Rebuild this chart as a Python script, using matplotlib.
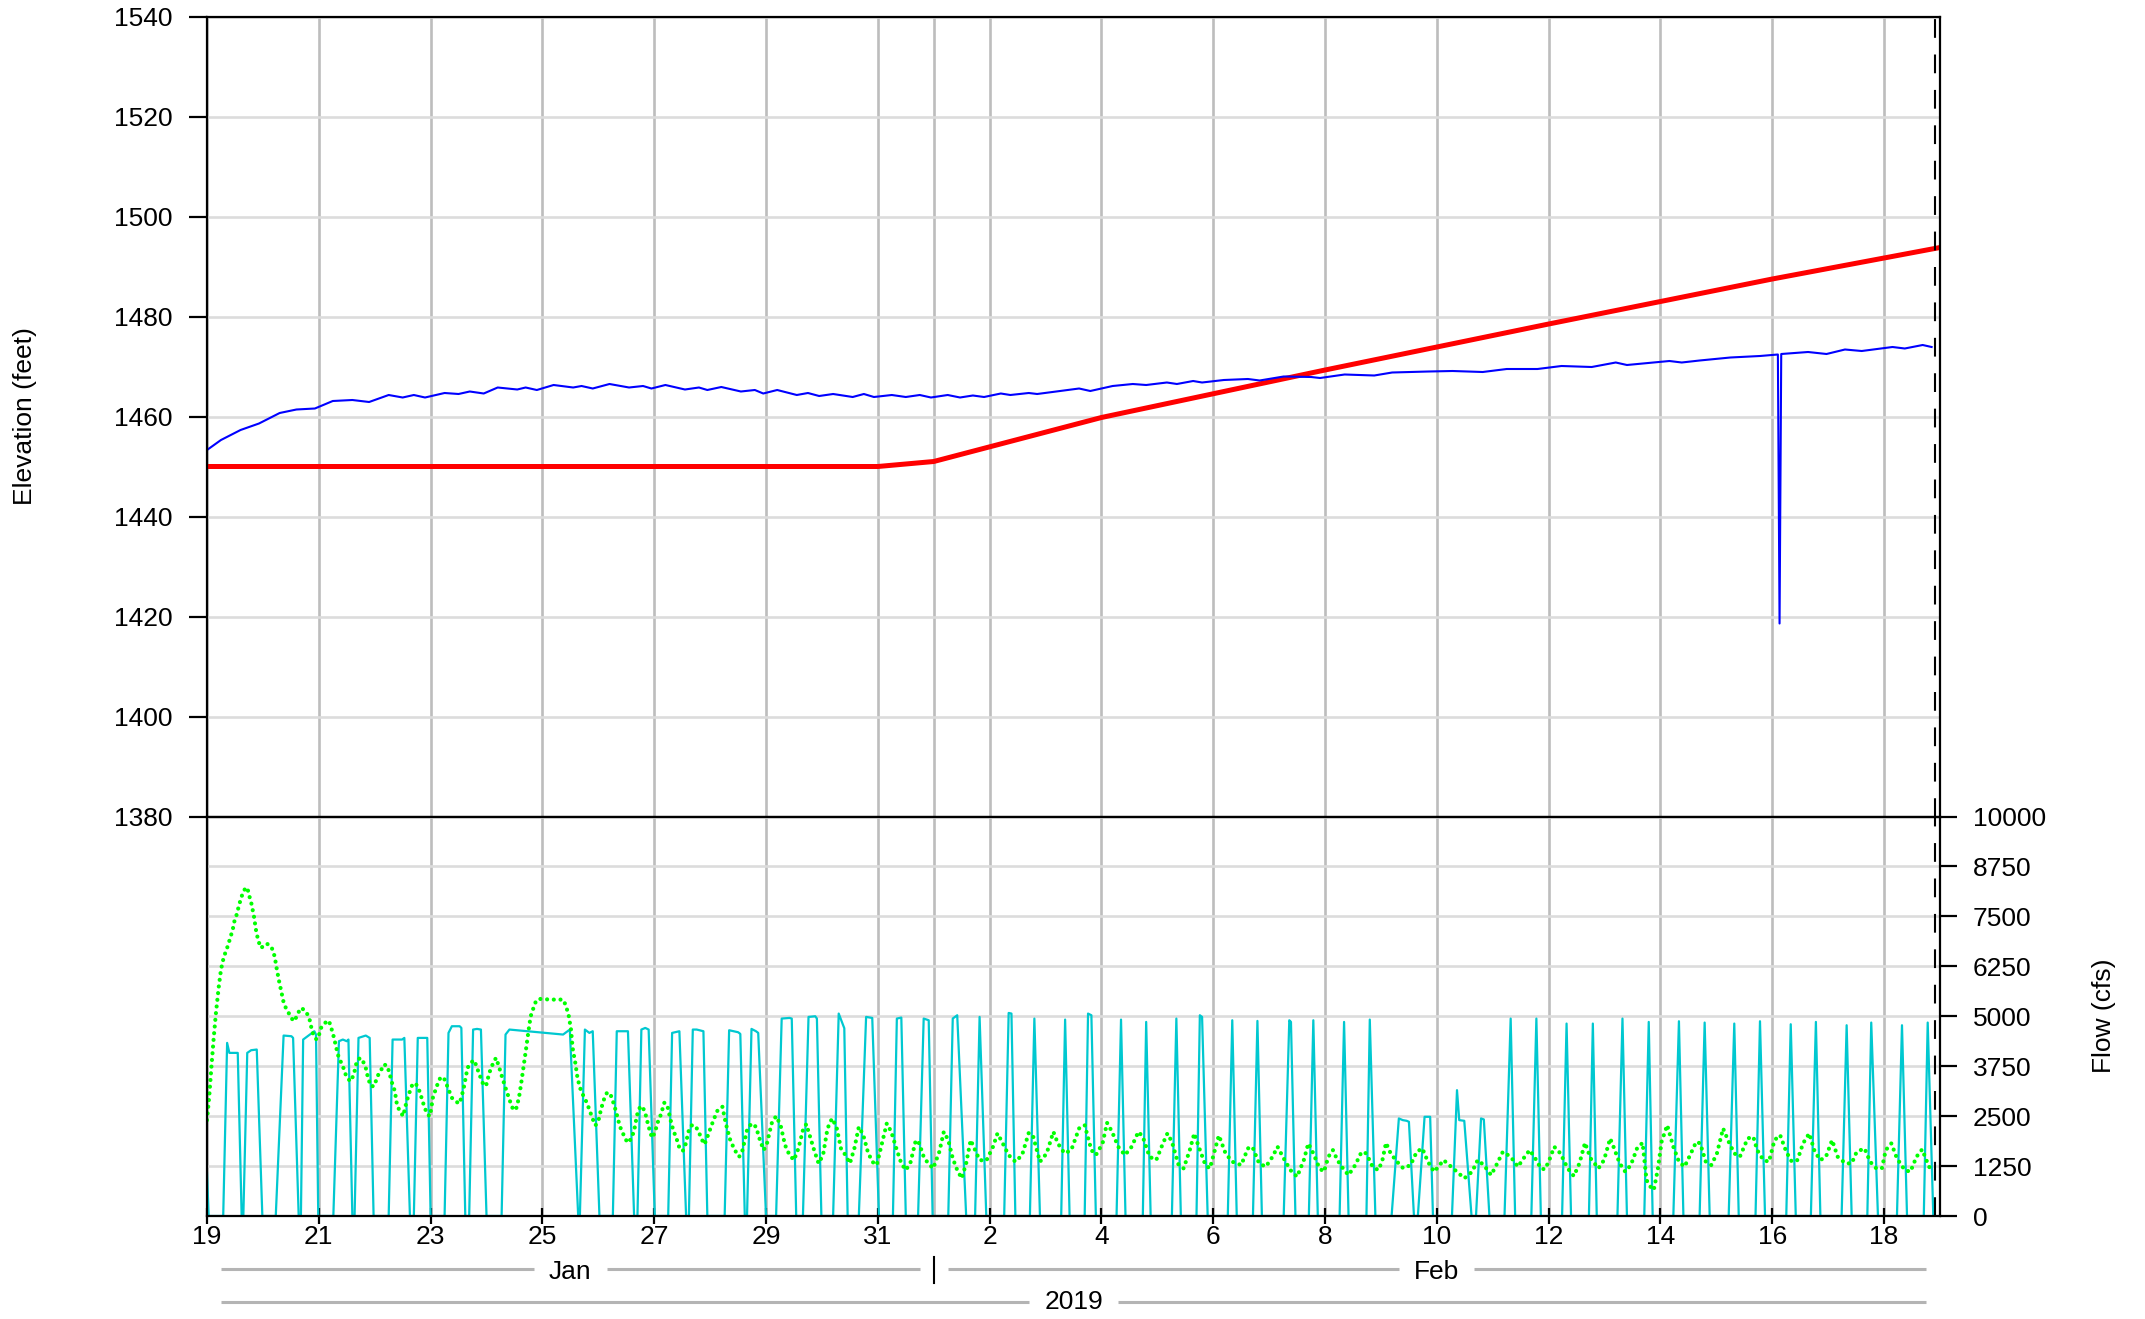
import numpy as np
import pandas as pd
import matplotlib
matplotlib.use('Agg')
import matplotlib.pyplot as plt
import matplotlib.dates as mdates
import matplotlib.transforms as mtransforms

plt.rcParams['font.family'] = ['Liberation Sans', 'DejaVu Sans']
plt.rcParams['font.size'] = 19

# time axis: days after 2019-01-19 00:00
start = pd.Timestamp('2019-01-19')
n_days = 31
now_marker = pd.Timestamp('2019-02-18 22:00')

# reservoir elevation (feet), (day, value)
elevation = [
    (0.00, 1453.3), (0.25, 1455.3), (0.60, 1457.3), (0.93, 1458.6), (1.30, 1460.7),
    (1.60, 1461.4), (1.93, 1461.6), (2.25, 1463.1), (2.60, 1463.3), (2.90, 1462.9),
    (3.25, 1464.3), (3.50, 1463.8), (3.70, 1464.3), (3.90, 1463.8), (4.25, 1464.7),
    (4.50, 1464.5), (4.70, 1465.0), (4.95, 1464.6), (5.20, 1465.8), (5.55, 1465.4),
    (5.70, 1465.8), (5.90, 1465.3), (6.20, 1466.3), (6.55, 1465.8), (6.70, 1466.1),
    (6.90, 1465.6), (7.20, 1466.5), (7.55, 1465.8), (7.80, 1466.1), (7.95, 1465.6),
    (8.20, 1466.3), (8.55, 1465.4), (8.80, 1465.8), (8.95, 1465.3), (9.20, 1465.9),
    (9.55, 1465.0), (9.80, 1465.3), (9.95, 1464.6), (10.20, 1465.3), (10.55, 1464.3),
    (10.75, 1464.7), (10.95, 1464.1), (11.20, 1464.5), (11.55, 1463.9), (11.75, 1464.5),
    (11.93, 1463.9), (12.25, 1464.3), (12.50, 1463.9), (12.75, 1464.3), (12.95, 1463.8),
    (13.25, 1464.3), (13.47, 1463.8), (13.70, 1464.2), (13.90, 1463.9), (14.20, 1464.6),
    (14.37, 1464.3), (14.70, 1464.7), (14.85, 1464.5), (15.26, 1465.1), (15.60, 1465.6),
    (15.80, 1465.1), (16.20, 1466.1), (16.56, 1466.5), (16.80, 1466.3), (17.17, 1466.8),
    (17.35, 1466.5), (17.64, 1467.1), (17.80, 1466.8), (18.19, 1467.3), (18.62, 1467.5),
    (18.83, 1467.2), (19.26, 1468.0), (19.75, 1467.9), (19.91, 1467.7), (20.35, 1468.4),
    (20.88, 1468.2), (21.20, 1468.8), (21.85, 1469.0), (22.28, 1469.1), (22.82, 1468.9),
    (23.25, 1469.5), (23.80, 1469.5), (24.23, 1470.1), (24.77, 1469.9), (25.20, 1470.8),
    (25.40, 1470.3), (26.16, 1471.1), (26.38, 1470.8), (26.70, 1471.2), (27.25, 1471.8),
    (27.78, 1472.1), (28.10, 1472.4), (28.13, 1418.6), (28.16, 1472.5), (28.64, 1472.9),
    (28.97, 1472.5), (29.30, 1473.4), (29.60, 1473.1), (30.15, 1473.9), (30.37, 1473.6),
    (30.69, 1474.3), (30.85, 1473.9),
]

# rule curve elevation (feet)
rule_curve = [(0, 1450.0), (12, 1450.0), (13, 1451.0), (16, 1459.8), (20, 1469.3),
              (24, 1478.5), (28, 1487.5), (31, 1493.8)]

# release flow (cfs)
release = [
    (0.00, 1083), (0.03, 0),
    (0.29, 0), (0.36, 4333), (0.40, 4083), (0.55, 4083), (0.62, 0),
    (0.65, 0), (0.72, 4083), (0.79, 4150), (0.89, 4167), (0.99, 0),
    (1.23, 0), (1.37, 4517), (1.51, 4500), (1.54, 4458), (1.64, 0),
    (1.68, 0), (1.72, 4417), (1.92, 4625), (1.95, 4542), (1.99, 0),
    (2.26, 0), (2.36, 4375), (2.43, 4417), (2.50, 4375), (2.53, 4417), (2.60, 0),
    (2.64, 0), (2.71, 4458), (2.84, 4517), (2.91, 4458), (2.98, 0),
    (3.25, 0), (3.32, 4417), (3.49, 4417), (3.53, 4458), (3.63, 0),
    (3.70, 0), (3.77, 4458), (3.94, 4458), (4.00, 0),
    (4.25, 0), (4.32, 4583), (4.38, 4750), (4.52, 4750), (4.55, 4708), (4.62, 0),
    (4.69, 0), (4.76, 4667), (4.83, 4683), (4.90, 4667), (5.00, 0),
    (5.27, 0), (5.34, 4542), (5.41, 4667), (6.37, 4542), (6.49, 4667), (6.64, 0),
    (6.67, 0), (6.76, 4667), (6.84, 4583), (6.90, 4625), (7.02, 0),
    (7.26, 0), (7.33, 4625), (7.53, 4625), (7.64, 0),
    (7.70, 0), (7.77, 4667), (7.84, 4708), (7.90, 4667), (8.01, 0),
    (8.25, 0), (8.32, 4583), (8.45, 4625), (8.57, 0),
    (8.62, 0), (8.69, 4667), (8.76, 4667), (8.88, 4625), (8.95, 0),
    (9.26, 0), (9.34, 4650), (9.42, 4625), (9.50, 4600), (9.54, 4558), (9.62, 0),
    (9.66, 0), (9.74, 4683), (9.82, 4625), (9.86, 4583), (10.00, 0),
    (10.18, 0), (10.28, 4942), (10.42, 4958), (10.46, 4942), (10.54, 0),
    (10.66, 0), (10.76, 4983), (10.88, 5000), (10.91, 4942), (10.99, 0),
    (11.20, 0), (11.30, 5067), (11.40, 4700), (11.46, 0),
    (11.66, 0), (11.79, 4983), (11.90, 4958), (12.02, 0),
    (12.27, 0), (12.34, 4942), (12.42, 4967), (12.50, 0),
    (12.72, 0), (12.82, 4942), (12.91, 4900), (12.98, 0),
    (13.26, 0), (13.34, 4942), (13.42, 5025), (13.58, 0),
    (13.74, 0), (13.82, 4983), (13.94, 0),
    (14.26, 0), (14.34, 5083), (14.39, 5067), (14.46, 0),
    (14.72, 0), (14.80, 4942), (14.90, 0),
    (15.28, 0), (15.35, 4917), (15.43, 0),
    (15.70, 0), (15.76, 5067), (15.82, 5025), (15.90, 0),
    (16.27, 0), (16.35, 4917), (16.43, 0),
    (16.74, 0), (16.80, 4858), (16.88, 0),
    (17.26, 0), (17.34, 4942), (17.42, 0),
    (17.70, 0), (17.76, 5025), (17.80, 4983), (17.90, 0),
    (18.26, 0), (18.34, 4900), (18.42, 0),
    (18.71, 0), (18.79, 4883), (18.87, 0),
    (19.26, 0), (19.36, 4900), (19.39, 4858), (19.47, 0),
    (19.71, 0), (19.79, 4900), (19.87, 0),
    (20.26, 0), (20.34, 4858), (20.42, 0),
    (20.74, 0), (20.80, 4917), (20.90, 0),
    (21.19, 0), (21.32, 2442), (21.39, 2400), (21.46, 2383), (21.50, 2358), (21.59, 0),
    (21.66, 0), (21.78, 2483), (21.88, 2483), (21.93, 0),
    (22.27, 0), (22.36, 3150), (22.40, 2400), (22.49, 2383), (22.62, 0),
    (22.70, 0), (22.79, 2442), (22.84, 2417), (22.94, 0),
    (23.21, 0), (23.32, 4942), (23.40, 0),
    (23.69, 0), (23.78, 4942), (23.86, 0),
    (24.24, 0), (24.32, 4817), (24.40, 0),
    (24.72, 0), (24.79, 4817), (24.86, 0),
    (25.23, 0), (25.32, 4942), (25.40, 0),
    (25.71, 0), (25.79, 4858), (25.86, 0),
    (26.23, 0), (26.33, 4875), (26.41, 0),
    (26.70, 0), (26.79, 4842), (26.88, 0),
    (27.22, 0), (27.32, 4817), (27.40, 0),
    (27.70, 0), (27.78, 4875), (27.87, 0),
    (28.25, 0), (28.33, 4800), (28.42, 0),
    (28.69, 0), (28.78, 4858), (28.86, 0),
    (29.24, 0), (29.33, 4775), (29.42, 0),
    (29.70, 0), (29.77, 4842), (29.89, 0),
    (30.23, 0), (30.32, 4775), (30.41, 0),
    (30.71, 0), (30.78, 4842), (30.88, 0),
]

# inflow (cfs)
inflow = [
    (0.00, 2400), (0.04, 3000), (0.08, 3750), (0.12, 4458), (0.16, 5083), (0.21, 5733),
    (0.25, 6167), (0.29, 6417), (0.33, 6600), (0.37, 6750), (0.41, 6933), (0.46, 7167),
    (0.49, 7375), (0.53, 7542), (0.58, 7817), (0.63, 8042), (0.67, 8167), (0.72, 8225),
    (0.75, 8042), (0.79, 7850), (0.84, 7500), (0.88, 7125), (0.92, 6875), (0.97, 6708),
    (1.01, 6767), (1.06, 6817), (1.11, 6792), (1.16, 6708), (1.21, 6500), (1.25, 6167),
    (1.29, 5875), (1.34, 5542), (1.37, 5350), (1.41, 5208), (1.46, 5083), (1.51, 4958),
    (1.55, 4875), (1.59, 4958), (1.63, 5083), (1.68, 5208), (1.73, 5167), (1.78, 5100),
    (1.84, 4892), (1.88, 4625), (1.92, 4483), (1.96, 4417), (2.00, 4517), (2.04, 4708),
    (2.11, 4833), (2.18, 4892), (2.25, 4583), (2.29, 4350), (2.34, 4042), (2.38, 3900),
    (2.43, 3750), (2.48, 3542), (2.53, 3417), (2.58, 3375), (2.64, 3625), (2.68, 3875),
    (2.74, 3958), (2.79, 3875), (2.84, 3708), (2.88, 3458), (2.93, 3250), (2.99, 3250),
    (3.05, 3500), (3.12, 3667), (3.16, 3792), (3.22, 3767), (3.26, 3600), (3.30, 3375),
    (3.36, 3125), (3.40, 2767), (3.46, 2600), (3.51, 2500), (3.55, 2750), (3.60, 3000),
    (3.66, 3250), (3.71, 3333), (3.77, 3250), (3.82, 3042), (3.88, 2767), (3.94, 2542),
    (3.99, 2500), (4.04, 2958), (4.11, 3250), (4.18, 3483), (4.25, 3417), (4.32, 3167),
    (4.38, 2958), (4.47, 2850), (4.52, 2817), (4.59, 3183), (4.66, 3708), (4.73, 3850),
    (4.78, 3900), (4.83, 3708), (4.88, 3517), (4.93, 3333), (4.99, 3250), (5.05, 3583),
    (5.12, 3833), (5.17, 3958), (5.22, 3750), (5.27, 3517), (5.33, 3250), (5.38, 3042),
    (5.42, 2875), (5.48, 2650), (5.53, 2683), (5.58, 2958), (5.62, 3317), (5.67, 3808),
    (5.71, 4208), (5.75, 4625), (5.79, 5000), (5.84, 5208), (5.89, 5400), (5.96, 5433),
    (6.15, 5417), (6.37, 5417), (6.42, 5267), (6.47, 5017), (6.51, 4683), (6.54, 4208),
    (6.59, 3817), (6.63, 3433), (6.68, 3183), (6.73, 3017), (6.78, 2875), (6.84, 2667),
    (6.89, 2458), (6.95, 2267), (7.01, 2433), (7.05, 2683), (7.11, 2958), (7.16, 3100),
    (7.23, 3000), (7.27, 2833), (7.32, 2600), (7.36, 2375), (7.41, 2150), (7.47, 1983),
    (7.52, 1833), (7.58, 1917), (7.64, 2125), (7.69, 2517), (7.74, 2708), (7.79, 2750),
    (7.85, 2517), (7.90, 2233), (7.96, 1958), (8.01, 2083), (8.07, 2375), (8.12, 2542),
    (8.18, 2833), (8.23, 2792), (8.29, 2417), (8.34, 2150), (8.40, 1933), (8.45, 1708),
    (8.51, 1625), (8.56, 1792), (8.62, 2150), (8.67, 2267), (8.73, 2267), (8.79, 2125),
    (8.85, 1917), (8.90, 1792), (8.96, 2017), (9.06, 2400), (9.14, 2667), (9.22, 2733),
    (9.28, 2317), (9.36, 1900), (9.44, 1650), (9.52, 1483), (9.58, 1650), (9.66, 2150),
    (9.74, 2317), (9.82, 2233), (9.90, 1858), (9.96, 1650), (10.02, 1833), (10.10, 2317),
    (10.18, 2500), (10.26, 2275), (10.34, 1775), (10.42, 1525), (10.50, 1400), (10.58, 1692),
    (10.66, 2150), (10.72, 2300), (10.78, 2025), (10.86, 1650), (10.94, 1317), (11.02, 1525),
    (11.10, 2192), (11.18, 2442), (11.26, 2233), (11.34, 1692), (11.42, 1525), (11.50, 1317),
    (11.58, 1692), (11.66, 2233), (11.74, 2025), (11.82, 1608), (11.90, 1358), (11.98, 1275),
    (12.06, 1733), (12.16, 2317), (12.24, 2108), (12.34, 1650), (12.42, 1317), (12.50, 1150),
    (12.58, 1317), (12.68, 1900), (12.74, 1817), (12.82, 1483), (12.90, 1317), (12.99, 1192),
    (13.10, 1608), (13.18, 2108), (13.26, 1900), (13.34, 1442), (13.42, 1150), (13.50, 942),
    (13.58, 1317), (13.66, 1900), (13.74, 1650), (13.82, 1400), (13.94, 1383), (14.06, 1733),
    (14.14, 2067), (14.22, 1858), (14.34, 1525), (14.46, 1358), (14.58, 1525), (14.70, 2083),
    (14.78, 1983), (14.90, 1358), (15.02, 1567), (15.14, 2108), (15.22, 1817), (15.34, 1567),
    (15.46, 1650), (15.60, 2192), (15.70, 2275), (15.82, 1650), (15.90, 1525), (16.02, 1817),
    (16.10, 2333), (16.19, 2108), (16.30, 1733), (16.42, 1525), (16.54, 1733), (16.66, 2108),
    (16.74, 1983), (16.86, 1483), (16.98, 1400), (17.10, 1817), (17.18, 2067), (17.26, 1858),
    (17.38, 1275), (17.47, 1192), (17.58, 1650), (17.66, 2067), (17.74, 1733), (17.86, 1275),
    (17.94, 1192), (18.02, 1608), (18.10, 2017), (18.22, 1567), (18.34, 1358), (18.50, 1275),
    (18.62, 1692), (18.70, 1733), (18.82, 1317), (18.94, 1233), (19.06, 1483), (19.15, 1733),
    (19.26, 1442), (19.38, 1150), (19.50, 983), (19.62, 1400), (19.70, 1817), (19.79, 1567),
    (19.90, 1192), (19.98, 1108), (20.06, 1483), (20.14, 1650), (20.22, 1400), (20.34, 1150),
    (20.42, 1025), (20.54, 1275), (20.64, 1567), (20.71, 1608), (20.78, 1442), (20.85, 1233),
    (20.95, 1150), (21.02, 1358), (21.09, 1833), (21.16, 1608), (21.26, 1400), (21.40, 1192),
    (21.53, 1275), (21.64, 1608), (21.74, 1692), (21.84, 1358), (21.95, 1108), (22.05, 1275),
    (22.12, 1400), (22.22, 1275), (22.36, 1108), (22.49, 942), (22.63, 1108), (22.73, 1400),
    (22.84, 1275), (22.97, 1025), (23.08, 1317), (23.18, 1608), (23.32, 1483), (23.45, 1233),
    (23.55, 1442), (23.66, 1650), (23.76, 1442), (23.86, 1192), (23.93, 1167), (24.00, 1358),
    (24.10, 1733), (24.21, 1567), (24.34, 1192), (24.45, 1000), (24.55, 1317), (24.65, 1833),
    (24.75, 1442), (24.89, 1192), (24.99, 1400), (25.10, 1942), (25.16, 1733), (25.27, 1317),
    (25.37, 1108), (25.47, 1275), (25.58, 1692), (25.68, 1833), (25.75, 900), (25.82, 733),
    (25.88, 650), (25.95, 1150), (26.02, 1858), (26.12, 2275), (26.23, 1733), (26.33, 1358),
    (26.43, 1233), (26.53, 1525), (26.64, 1858), (26.71, 1817), (26.81, 1358), (26.91, 1275),
    (27.01, 1567), (27.12, 2192), (27.22, 1858), (27.32, 1567), (27.42, 1483), (27.56, 1942),
    (27.66, 1983), (27.73, 1650), (27.84, 1400), (27.94, 1358), (28.04, 1900), (28.14, 2025),
    (28.25, 1608), (28.35, 1358), (28.45, 1400), (28.55, 1817), (28.66, 2067), (28.76, 1608),
    (28.86, 1400), (28.96, 1483), (29.07, 1900), (29.17, 1483), (29.31, 1317), (29.42, 1317),
    (29.51, 1608), (29.65, 1692), (29.75, 1358), (29.86, 1192), (29.96, 1192), (30.03, 1650),
    (30.13, 1817), (30.23, 1442), (30.37, 1150), (30.47, 1108), (30.58, 1483), (30.68, 1667),
    (30.78, 1317), (30.82, 1192),
]

elev_ticks = np.arange(1380, 1541, 20)
flow_ticks = np.arange(0, 10001, 1250)

t0 = mdates.date2num(start.to_pydatetime())
x_end = t0 + n_days


def to_x(days):
    return t0 + np.asarray(days, dtype=float)


tick_dates = pd.date_range(start, periods=16, freq='2D')
tick_x = mdates.date2num(tick_dates.to_pydatetime())
tick_labels = [str(d.day) for d in tick_dates]
feb1 = mdates.date2num(pd.Timestamp('2019-02-01').to_pydatetime())
now_x = mdates.date2num(now_marker.to_pydatetime())

W, H = 2145, 1319
fig = plt.figure(figsize=(W / 100, H / 100), dpi=100)
L, R = 207, 1940
top, mid, bot = 16.5, 816.5, 1216
ax1 = fig.add_axes([L / W, 1 - mid / H, (R - L) / W, (mid - top) / H])
ax2 = fig.add_axes([L / W, 1 - bot / H, (R - L) / W, (bot - mid) / H])

vgrid = dict(color='#bdbdbd', lw=1.9)
hgrid = dict(color='#dcdcdc', lw=1.9)

for ax in (ax1, ax2):
    ax.set_xlim(t0, x_end)
    ax.set_xticks(tick_x)
    ax.set_axisbelow(True)
    ax.grid(axis='x', **vgrid)
    ax.grid(axis='y', **hgrid)
    ax.axvline(feb1, zorder=0.5, **vgrid)
    ax.axvline(now_x, color='black', lw=1.5, dashes=(9, 8), zorder=4)
    for s in ax.spines.values():
        s.set_linewidth(1.6)

# top: elevation
e = np.array(elevation).T
rc = np.array(rule_curve).T
ax1.plot(to_x(rc[0]), rc[1], color='#ff0000', lw=3.6, solid_capstyle='butt')
ax1.plot(to_x(e[0]), e[1], color='#0000ff', lw=1.5)
ax1.set_ylim(1380, 1540)
ax1.set_yticks(elev_ticks)
ax1.tick_params(axis='y', direction='out', length=13, width=1.6, pad=11.5)
ax1.tick_params(axis='x', length=0, labelbottom=False)

# bottom: flows
r = np.array(release).T
q = np.array(inflow).T
ax2.plot(to_x(r[0]), r[1], color='#00c8d0', lw=1.6)
ax2.plot(to_x(q[0]), q[1], color='#00ff00', lw=3.0,
         linestyle=(0, (0.01, 1.6)), dash_capstyle='round')
ax2.set_ylim(0, 10000)
ax2.set_yticks(flow_ticks)
ax2.yaxis.tick_right()
ax2.tick_params(axis='y', left=False, right=True, direction='out',
                length=12, width=1.6, pad=11.5)
ax2.set_xticklabels(tick_labels)
ax2.tick_params(axis='x', direction='inout', length=11, width=1.6, pad=1)

fig.text(25 / W, 1 - 416 / H, 'Elevation (feet)', rotation=90, ha='center', va='center')
fig.text(2104 / W, 1 - 1016 / H, 'Flow (cfs)', rotation=90, ha='center', va='center')

# month / year rows under the axis
trans = mtransforms.blended_transform_factory(ax2.transData, fig.transFigure)
fig.canvas.draw()
renderer = fig.canvas.get_renderer()
px_per_day = (R - L) / n_days
inset = 14 / px_per_day


def span_label(x0, x1, text_px, line_px, text):
    xc = (x0 + x1) / 2
    t = ax2.text(xc, 1 - text_px / H, text, transform=trans, ha='center', va='center')
    half = t.get_window_extent(renderer).width / 2 + 15
    gap = half / px_per_day
    y = 1 - line_px / H
    kw = dict(color='#b4b4b4', lw=2.2, transform=trans, clip_on=False,
              solid_capstyle='butt')
    ax2.plot([x0 + inset, xc - gap], [y, y], **kw)
    ax2.plot([xc + gap, x1 - inset], [y, y], **kw)


span_label(t0, feb1, 1272, 1269, 'Jan')
span_label(feb1, x_end, 1272, 1269, 'Feb')
span_label(t0, x_end, 1302, 1301.5, '2019')
ax2.plot([feb1, feb1], [1 - 1257 / H, 1 - 1283 / H], color='black', lw=1.5,
         transform=trans, clip_on=False)

fig.savefig('out.png', dpi=100)
